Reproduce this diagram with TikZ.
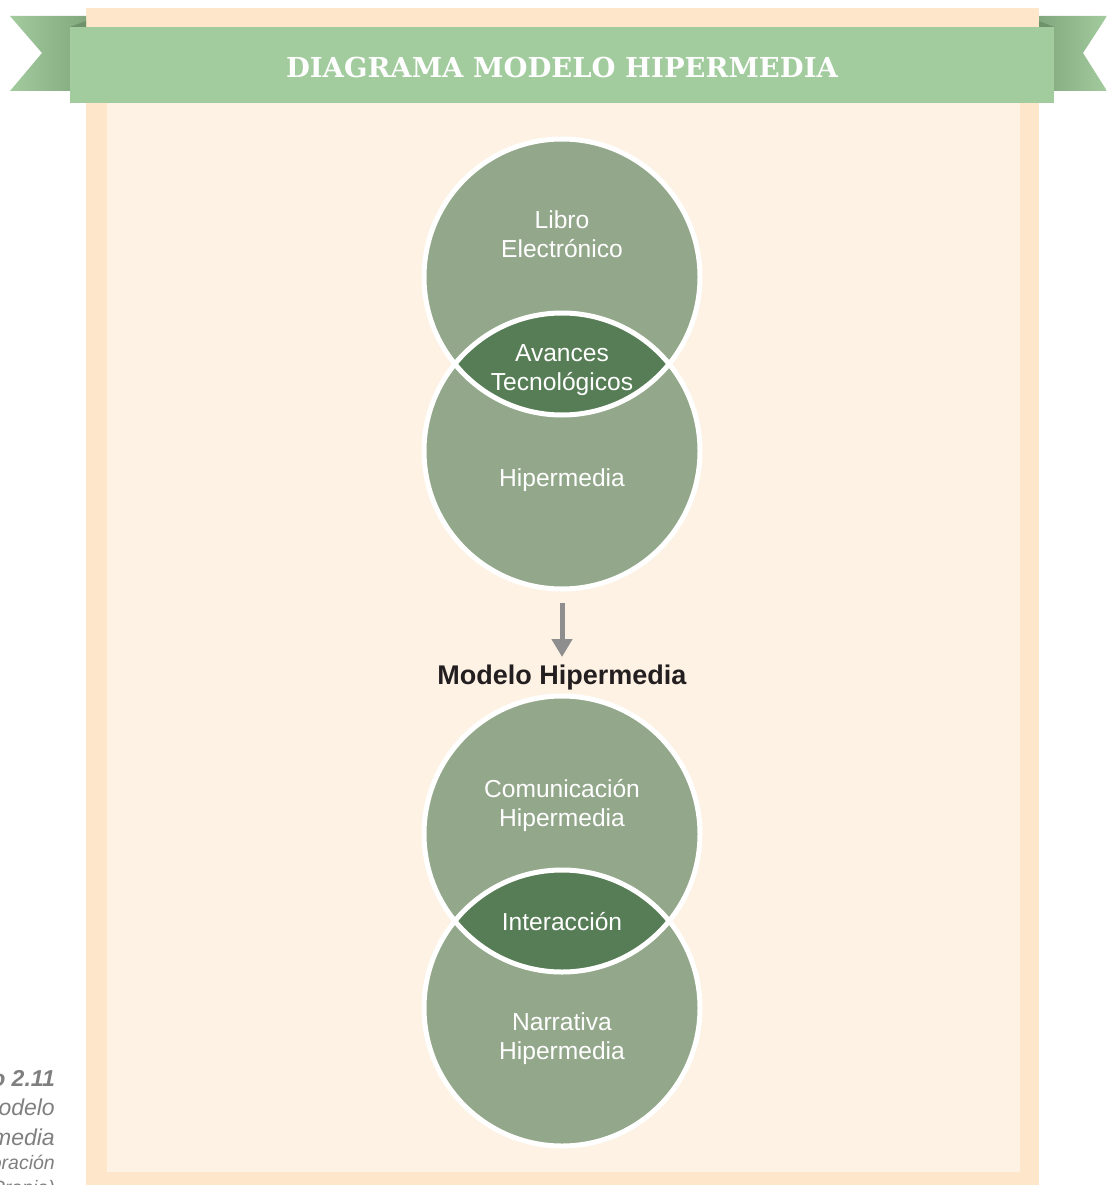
\documentclass[tikz,border=0pt]{standalone}
\usepackage{fontspec}
\setmainfont{Liberation Sans}
\newfontfamily\titlefont{DejaVu Serif}
\usetikzlibrary{arrows.meta}

\definecolor{paneledge}{HTML}{FDE6C9}
\definecolor{panelfill}{HTML}{FDF2E3}
\definecolor{ribbon}{HTML}{A2CB9E}
\definecolor{ribbondark}{HTML}{82A77E}
\definecolor{ribbonfold}{HTML}{6E9269}
\definecolor{bubble}{HTML}{93A78B}
\definecolor{overlap}{HTML}{567D55}
\definecolor{arrowgray}{HTML}{8E8E8E}
\definecolor{captiongray}{HTML}{7F7F7F}
\definecolor{inkdark}{HTML}{231F20}

\tikzset{
  bubblebox/.style={circle, minimum size=276pt, inner sep=0pt, fill=bubble},
  bubbletext/.style={align=center, text=white, inner sep=0pt,
    font=\fontsize{24.6}{29}\selectfont},
  ring/.style={draw=white, line width=5pt},
  flowarrow/.style={draw=arrowgray, line width=5pt,
    -{Triangle[width=20pt,length=18pt]}},
}

\begin{document}
\begin{tikzpicture}[x=1pt, y=-1pt]
\useasboundingbox (0,0) rectangle (1107,1185);
\clip (0,0) rectangle (1107,1185);

% panel
\fill[paneledge] (86,8) rectangle (1039,1185);
\fill[panelfill] (107,103) rectangle (1020,1172);

% ribbon tails and folds
\shade[left color=ribbon, right color=ribbondark]
  (10,16) -- (86,16) -- (86,91) -- (10,91) -- (42,53) -- cycle;
\shade[left color=ribbondark, right color=ribbon]
  (1039,16) -- (1107,16) -- (1083,53) -- (1107,91) -- (1039,91) -- cycle;
\fill[ribbonfold] (70,27) -- (86,21) -- (86,27) -- cycle;
\fill[ribbonfold] (1054,27) -- (1039,21) -- (1039,27) -- cycle;

% banner
\fill[ribbon] (70,27) rectangle (1054,103);
\node[text=white, inner sep=0pt, font=\titlefont\bfseries\fontsize{27.5}{30}\selectfont]
  (title) at (562,67) {DIAGRAMA MODELO HIPERMEDIA};

% first pair of circles
\node[bubblebox] (libro) at (562,277) {};
\node[bubblebox] (hiper) at (562,451) {};
\begin{scope}
  \clip (libro.center) circle (138pt);
  \fill[overlap] (hiper.center) circle (138pt);
\end{scope}
\draw[ring] (libro.center) circle (138pt);
\draw[ring] (hiper.center) circle (138pt);

\node[bubbletext] (librotxt) at (562,234.5) {Libro\\Electrónico};
\node[bubbletext] (avances) at (562,370.5) {Avances\\Tecnológicos};
\node[bubbletext] (hipertxt) at (562,480.5) {Hipermedia};

% arrow to the model title
\node[text=inkdark, inner sep=0pt, font=\bfseries\fontsize{27}{30}\selectfont]
  (modelo) at (562,677.5) {Modelo Hipermedia};
\coordinate (arrowtip) at (562,657);
\draw[flowarrow] ([yshift=-14pt]hiper.south) -- (arrowtip);

% second pair of circles
\node[bubblebox] (comun) at (562,834) {};
\node[bubblebox] (narra) at (562,1008) {};
\begin{scope}
  \clip (comun.center) circle (138pt);
  \fill[overlap] (narra.center) circle (138pt);
\end{scope}
\draw[ring] (comun.center) circle (138pt);
\draw[ring] (narra.center) circle (138pt);

\node[bubbletext] (comuntxt) at (562,805) {Comunicación\\Hipermedia};
\node[bubbletext] (interac) at (562,922) {Interacción};
\node[bubbletext] (narratxt) at (562,1038.5) {Narrativa\\Hipermedia};

% side caption, running off the left edge
\node[anchor=north east, align=right, inner sep=0pt, text=captiongray,
  font=\itshape\fontsize{23}{29.5}\selectfont] (caption) at (55,1069)
  {\textbf{Gráfico 2.11}\\Modelo\\Hipermedia\\[-5pt]
   {\fontsize{19.5}{22}\selectfont(Elaboración}\\[-5pt]
   {\fontsize{19.5}{22}\selectfont Propia)}};
\end{tikzpicture}
\end{document}
